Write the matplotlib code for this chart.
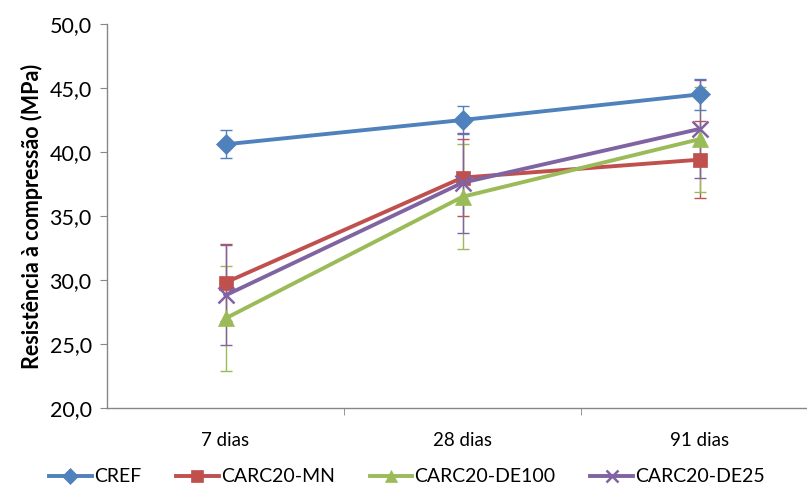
import matplotlib
matplotlib.use("Agg")
from matplotlib import pyplot as plt
import numpy as np

# idade de ensaio
idades = ["7 dias", "28 dias", "91 dias"]

# resistência média (MPa) e desvio padrão por traço
cref = [40.6, 42.5, 44.5]
cref_dp = [1.1, 1.1, 1.2]
carc20_mn = [29.8, 38.0, 39.4]
carc20_mn_dp = [3.0, 3.0, 3.0]
carc20_de100 = [27.0, 36.5, 41.0]
carc20_de100_dp = [4.1, 4.1, 4.1]
carc20_de25 = [28.8, 37.6, 41.8]
carc20_de25_dp = [3.9, 3.9, 3.85]

series = [
    ("CREF", cref, cref_dp, "#4F81BD", "D", 10.5),
    ("CARC20-MN", carc20_mn, carc20_mn_dp, "#C0504D", "s", 10.5),
    ("CARC20-DE100", carc20_de100, carc20_de100_dp, "#9BBB59", "^", 11.5),
    ("CARC20-DE25", carc20_de25, carc20_de25_dp, "#8064A2", "x", 11),
]

plt.rcParams["font.family"] = ["Lato", "DejaVu Sans"]

fig = plt.figure(figsize=(8.07, 4.88), dpi=100)
ax = fig.add_axes([107 / 807, 80 / 488, 699 / 807, 384 / 488])

x = np.arange(len(idades))
for nome, vals, dp, cor, mk, ms in series:
    ax.errorbar(x, vals, yerr=dp, fmt="none", ecolor=cor, elinewidth=1.0,
                capsize=4, capthick=1.0, zorder=2)
    ax.plot(x, vals, color=cor, linewidth=2.8, marker=mk, markersize=ms,
            markeredgewidth=1.8 if mk == "x" else 0.5, markeredgecolor=cor,
            label=nome, zorder=3)

ax.set_xlim(-0.5, 2.5 - 12 / 237)
ax.set_ylim(20, 50)
ax.set_yticks(np.arange(20, 50.1, 5))
ax.set_yticklabels([f"{v:.1f}".replace(".", ",") for v in np.arange(20, 50.1, 5)])
ax.set_xticks(x)
ax.set_xticklabels(idades)
ax.set_xticks([0.5, 1.5], minor=True)

for s in ["top", "right"]:
    ax.spines[s].set_visible(False)
for s in ["left", "bottom"]:
    ax.spines[s].set_color("#868686")
    ax.spines[s].set_linewidth(1.0)

ax.tick_params(axis="y", direction="out", length=5, color="#868686",
               labelsize=15.5, pad=6, labelcolor="#000000")
ax.tick_params(axis="x", which="major", length=0, labelsize=13.5, pad=17)
ax.tick_params(axis="x", which="minor", direction="out", length=5, color="#868686")

ax.set_ylabel("Resistência à compressão (MPa)", fontsize=15.5, fontweight="bold", labelpad=5)

# legenda na base da figura
handles, labels = ax.get_legend_handles_labels()
fig.legend(handles, labels, loc="center", bbox_to_anchor=(407 / 807, 11 / 488),
           ncol=4, frameon=False, fontsize=14, handlelength=2.2, columnspacing=1.8,
           handletextpad=0.1, borderpad=0, borderaxespad=0, markerscale=0.8)

fig.savefig("out.png", dpi=100)
